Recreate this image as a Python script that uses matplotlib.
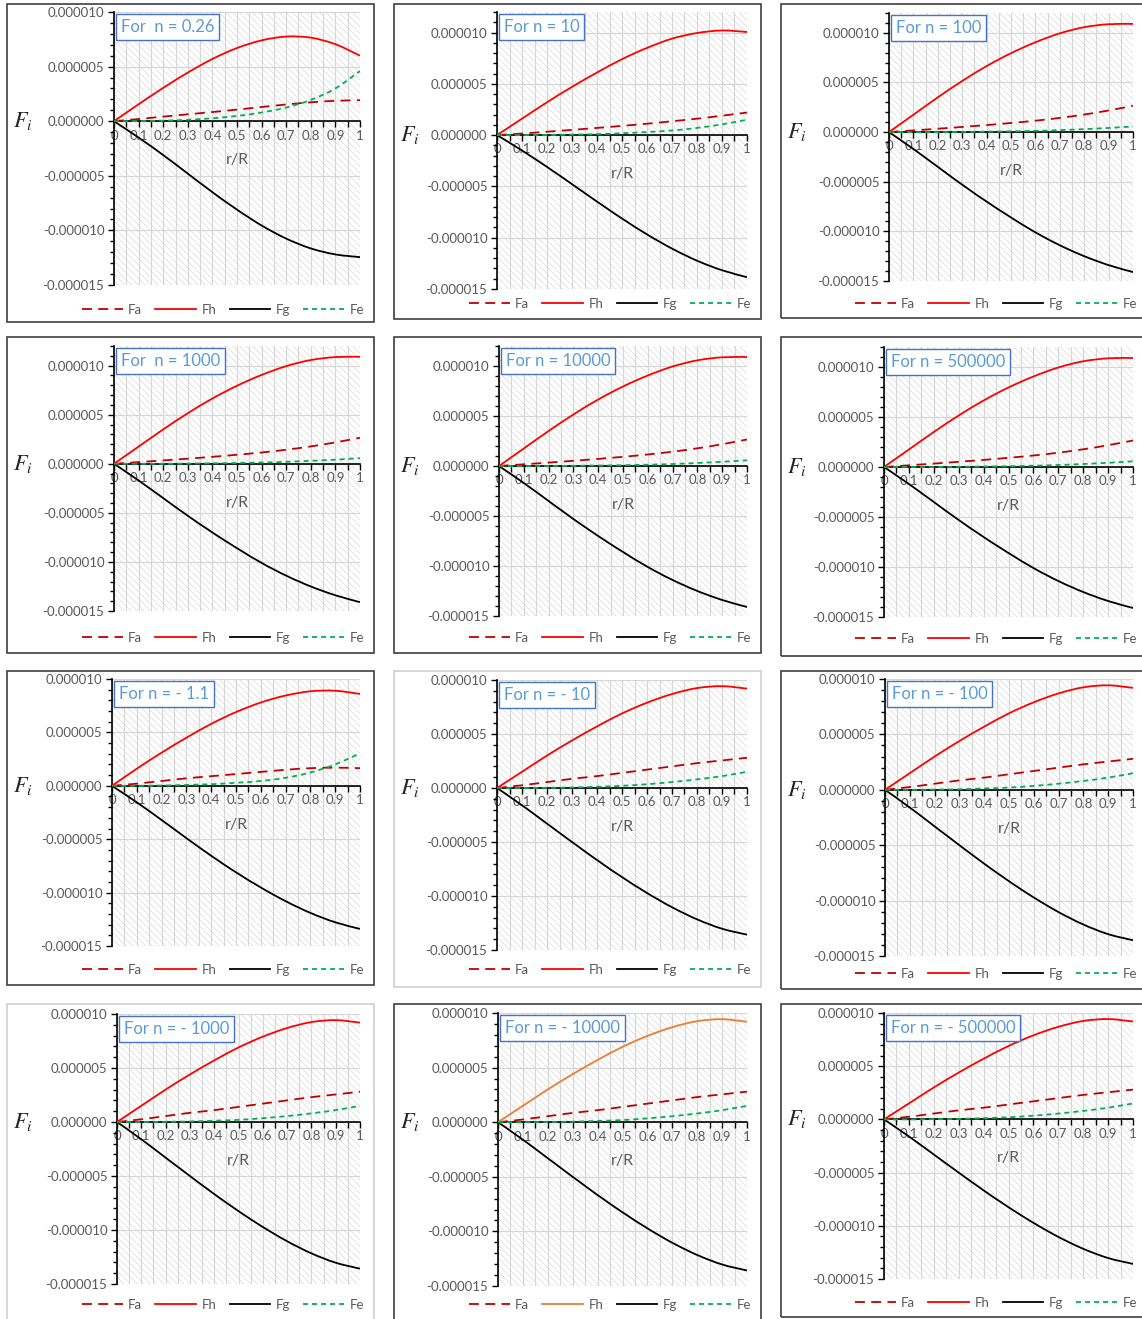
import numpy as np
import matplotlib.pyplot as plt
from matplotlib.patches import Rectangle, PathPatch
from matplotlib.path import Path
from matplotlib.lines import Line2D
from matplotlib.ticker import MultipleLocator, FormatStrFormatter, FixedLocator, FixedFormatter

plt.rcParams['font.family'] = ['Lato', 'DejaVu Sans']
plt.rcParams['mathtext.fontset'] = 'stix'
plt.rcParams['hatch.linewidth'] = 0.5

W, H = 1142, 1319

# dati: r/R e forze (in unita di 1e-6)
r_R = [0, 0.1, 0.2, 0.3, 0.4, 0.5, 0.6, 0.7, 0.8, 0.9, 1.0]
x_labels = ['0', '0.1', '0.2', '0.3', '0.4', '0.5', '0.6', '0.7', '0.8', '0.9', '1']

titles = ['For  n = 0.26', 'For n = 10', 'For n = 100',
          'For  n = 1000', 'For n = 10000', 'For n = 500000',
          'For n = - 1.1', 'For n = - 10', 'For n = - 100',
          'For n = - 1000', 'For n = - 10000', 'For n = - 500000']

fa_026 = [0, 0.2, 0.42, 0.63, 0.84, 1.06, 1.3, 1.53, 1.73, 1.87, 1.92]
fh_026 = [0, 1.55, 3.05, 4.45, 5.7, 6.7, 7.4, 7.75, 7.65, 7.05, 6.0]
fg_026 = [0, -1.5, -3.1, -4.8, -6.5, -8.1, -9.55, -10.75, -11.65, -12.2, -12.45]
fe_026 = [0, 0.01, 0.05, 0.13, 0.27, 0.48, 0.8, 1.25, 1.95, 3.0, 4.6]

fa_10 = [0, 0.15, 0.33, 0.51, 0.7, 0.9, 1.11, 1.35, 1.6, 1.89, 2.2]
fh_10 = [0, 1.6, 3.2, 4.7, 6.1, 7.4, 8.5, 9.4, 9.95, 10.2, 10.05]
fg_10 = [0, -1.5, -3.1, -4.78, -6.48, -8.13, -9.68, -11.06, -12.24, -13.17, -13.85]
fe_10 = [0, 0, 0.02, 0.05, 0.1, 0.18, 0.3, 0.45, 0.7, 1.05, 1.5]

# n = 100, 1000, 10000, 500000 (curve praticamente uguali)
fa_big = [0, 0.17, 0.34, 0.52, 0.71, 0.92, 1.15, 1.43, 1.77, 2.18, 2.65]
fh_big = [0, 1.75, 3.5, 5.15, 6.65, 7.95, 9.05, 9.95, 10.57, 10.87, 10.9]
fg_big = [0, -1.7, -3.5, -5.3, -7.0, -8.6, -10.1, -11.4, -12.5, -13.4, -14.1]
fe_big = [0, 0, 0, 0.02, 0.05, 0.08, 0.13, 0.2, 0.3, 0.42, 0.57]

fa_m11 = [0, 0.2, 0.45, 0.7, 0.9, 1.1, 1.3, 1.5, 1.65, 1.7, 1.65]
fh_m11 = [0, 1.6, 3.1, 4.5, 5.8, 6.9, 7.8, 8.45, 8.85, 8.9, 8.6]
fg_m11 = [0, -1.55, -3.2, -4.9, -6.55, -8.1, -9.52, -10.8, -11.9, -12.78, -13.4]
fe_m11 = [0, 0, 0.03, 0.08, 0.15, 0.28, 0.45, 0.75, 1.25, 2.0, 3.05]

# n = -10 ... -500000
fa_neg = [0, 0.25, 0.55, 0.85, 1.1, 1.4, 1.7, 2.0, 2.3, 2.55, 2.8]
fh_neg = [0, 1.5, 3.0, 4.4, 5.7, 6.9, 7.9, 8.7, 9.25, 9.43, 9.2]
fg_neg = [0, -1.6, -3.3, -5.0, -6.67, -8.25, -9.72, -11.04, -12.16, -13.03, -13.58]
fe_neg = [0, 0, 0.02, 0.05, 0.12, 0.2, 0.35, 0.55, 0.8, 1.1, 1.5]

FA = [fa_026, fa_10, fa_big, fa_big, fa_big, fa_big, fa_m11, fa_neg, fa_neg, fa_neg, fa_neg, fa_neg]
FH = [fh_026, fh_10, fh_big, fh_big, fh_big, fh_big, fh_m11, fh_neg, fh_neg, fh_neg, fh_neg, fh_neg]
FG = [fg_026, fg_10, fg_big, fg_big, fg_big, fg_big, fg_m11, fg_neg, fg_neg, fg_neg, fg_neg, fg_neg]
FE = [fe_026, fe_10, fe_big, fe_big, fe_big, fe_big, fe_m11, fe_neg, fe_neg, fe_neg, fe_neg, fe_neg]
y_top = [10, 12, 12, 12, 12, 12, 10, 10, 10, 10, 10, 10]

# layout in pixel
boxes = [(7, 4, 374, 322), (394, 4, 761, 319), (781, 4, 1144, 318),
         (7, 337, 374, 653), (394, 337, 761, 653), (781, 337, 1144, 656),
         (7, 671, 374, 985), (394, 671, 761, 987), (781, 671, 1144, 989),
         (7, 1004, 374, 1322), (394, 1004, 761, 1322), (781, 1004, 1144, 1317)]
axes_px = [(114, 12, 360, 285), (497, 12, 747, 289), (889, 13, 1133, 281),
           (114, 346, 360, 611), (499, 346, 747, 616), (884, 347, 1133, 617),
           (112, 679, 360, 946), (497, 680, 747, 950), (885, 679, 1133, 956),
           (117, 1014, 360, 1284), (498, 1013, 747, 1286), (884, 1013, 1133, 1279)]
legend_y = [310, 304, 304, 638, 638, 639, 970, 970, 974, 1305, 1305, 1303]
border_col = ['#404040'] * 12
border_col[7] = '#d0d0d0'
border_col[9] = '#d0d0d0'

grey = '#595959'


def smooth_line(ax, xs, ys, **kw):
    # linea "smussata" come in Excel (spline di Catmull-Rom passante per i punti)
    p = np.column_stack([xs, ys])
    ext = np.vstack([p[0], p, p[-1]])
    verts = [p[0]]
    codes = [Path.MOVETO]
    for k in range(len(p) - 1):
        c1 = ext[k + 1] + (ext[k + 2] - ext[k]) / 6
        c2 = ext[k + 2] - (ext[k + 3] - ext[k + 1]) / 6
        verts += [c1, c2, ext[k + 2]]
        codes += [Path.CURVE4] * 3
    ax.add_patch(PathPatch(Path(verts, codes), fill=False, capstyle='butt', zorder=3, **kw))


fig = plt.figure(figsize=(W / 100, H / 100), dpi=100)

for i in range(12):
    bl, bt, br, bb = boxes[i]
    fig.patches.append(Rectangle((bl / W, 1 - bb / H), (br - bl) / W, (bb - bt) / H,
                                 transform=fig.transFigure, fill=False,
                                 edgecolor=border_col[i], linewidth=1.2))
    al, at, ar, ab = axes_px[i]
    ax = fig.add_axes([al / W, 1 - ab / H, (ar - al) / W, (ab - at) / H])
    ax.set_xlim(0, 1)
    ax.set_ylim(-15e-6, y_top[i] * 1e-6)

    # sfondo tratteggiato
    ax.add_patch(Rectangle((0, 0), 1, 1, transform=ax.transAxes, facecolor='white',
                           edgecolor='#dadada', hatch='\\\\\\\\\\', linewidth=0, zorder=0.1))
    ax.set_axisbelow(True)
    ax.xaxis.set_major_locator(FixedLocator(r_R))
    ax.xaxis.set_major_formatter(FixedFormatter(x_labels))
    ax.xaxis.set_minor_locator(MultipleLocator(0.05))
    ax.yaxis.set_major_locator(MultipleLocator(5e-6))
    ax.yaxis.set_minor_locator(MultipleLocator(1e-6))
    ax.yaxis.set_major_formatter(FormatStrFormatter('%.6f'))
    ax.xaxis.grid(True, which='both', color='#d6d6d6', linewidth=0.8)
    ax.yaxis.grid(True, which='major', color='#d6d6d6', linewidth=0.8)

    for s in ['top', 'right']:
        ax.spines[s].set_visible(False)
    ax.spines['bottom'].set_position(('data', 0))
    ax.spines['bottom'].set_color('black')
    ax.spines['left'].set_color('black')
    ax.spines['bottom'].set_linewidth(1.2)
    ax.spines['left'].set_linewidth(1.2)
    ax.tick_params(axis='x', which='both', direction='out', length=4, width=1,
                   labelsize=9.5, labelcolor=grey, pad=2)
    ax.tick_params(axis='y', which='major', direction='out', length=4, width=1,
                   labelsize=9.5, labelcolor=grey, pad=3)
    ax.tick_params(axis='y', which='minor', direction='out', length=3, width=1)

    fh_col = '#ED7D31' if i == 10 else '#FF0000'
    x = np.array(r_R)
    smooth_line(ax, x, np.array(FA[i]) * 1e-6, edgecolor='#C00000', lw=1.3, ls=(0, (5.5, 3.5)))
    smooth_line(ax, x, np.array(FH[i]) * 1e-6, edgecolor=fh_col, lw=1.3)
    smooth_line(ax, x, np.array(FG[i]) * 1e-6, edgecolor='black', lw=1.3)
    smooth_line(ax, x, np.array(FE[i]) * 1e-6, edgecolor='#00B050', lw=1.3, ls=(0, (2.8, 2.2)))

    ax.annotate(titles[i], xy=(0, 1), xycoords='axes fraction', xytext=(5, -5),
                textcoords='offset points', ha='left', va='top', fontsize=12,
                color='#5B9BD5', zorder=5,
                bbox=dict(boxstyle='square,pad=0.28', fc='white', ec='#4472C4', lw=1))
    ax.annotate('r/R', xy=(0.5, 0), xycoords='data', xytext=(0, -28),
                textcoords='offset points', ha='center', va='center',
                fontsize=11.5, color=grey, zorder=5)

    # etichetta F_i a sinistra
    zero_px = at + (ab - at) * y_top[i] / (y_top[i] + 15)
    fig.text((bl + 16) / W, 1 - zero_px / H, '$F_i$', fontsize=16, color='#262626',
             ha='center', va='center')

    handles = [Line2D([], [], color='#C00000', lw=1.3, ls=(0, (5.5, 3.5))),
               Line2D([], [], color=fh_col, lw=1.3),
               Line2D([], [], color='black', lw=1.3),
               Line2D([], [], color='#00B050', lw=1.3, ls=(0, (2.8, 2.2)))]
    fig.legend(handles, ['Fa', 'Fh', 'Fg', 'Fe'], loc='center right',
               bbox_to_anchor=((ar + 4) / W, 1 - legend_y[i] / H), ncol=4,
               frameon=False, fontsize=9.5, labelcolor=grey, handlelength=3.1,
               handletextpad=0.4, columnspacing=1.0, borderpad=0, borderaxespad=0)

fig.savefig('out.png', dpi=100, facecolor='white')
